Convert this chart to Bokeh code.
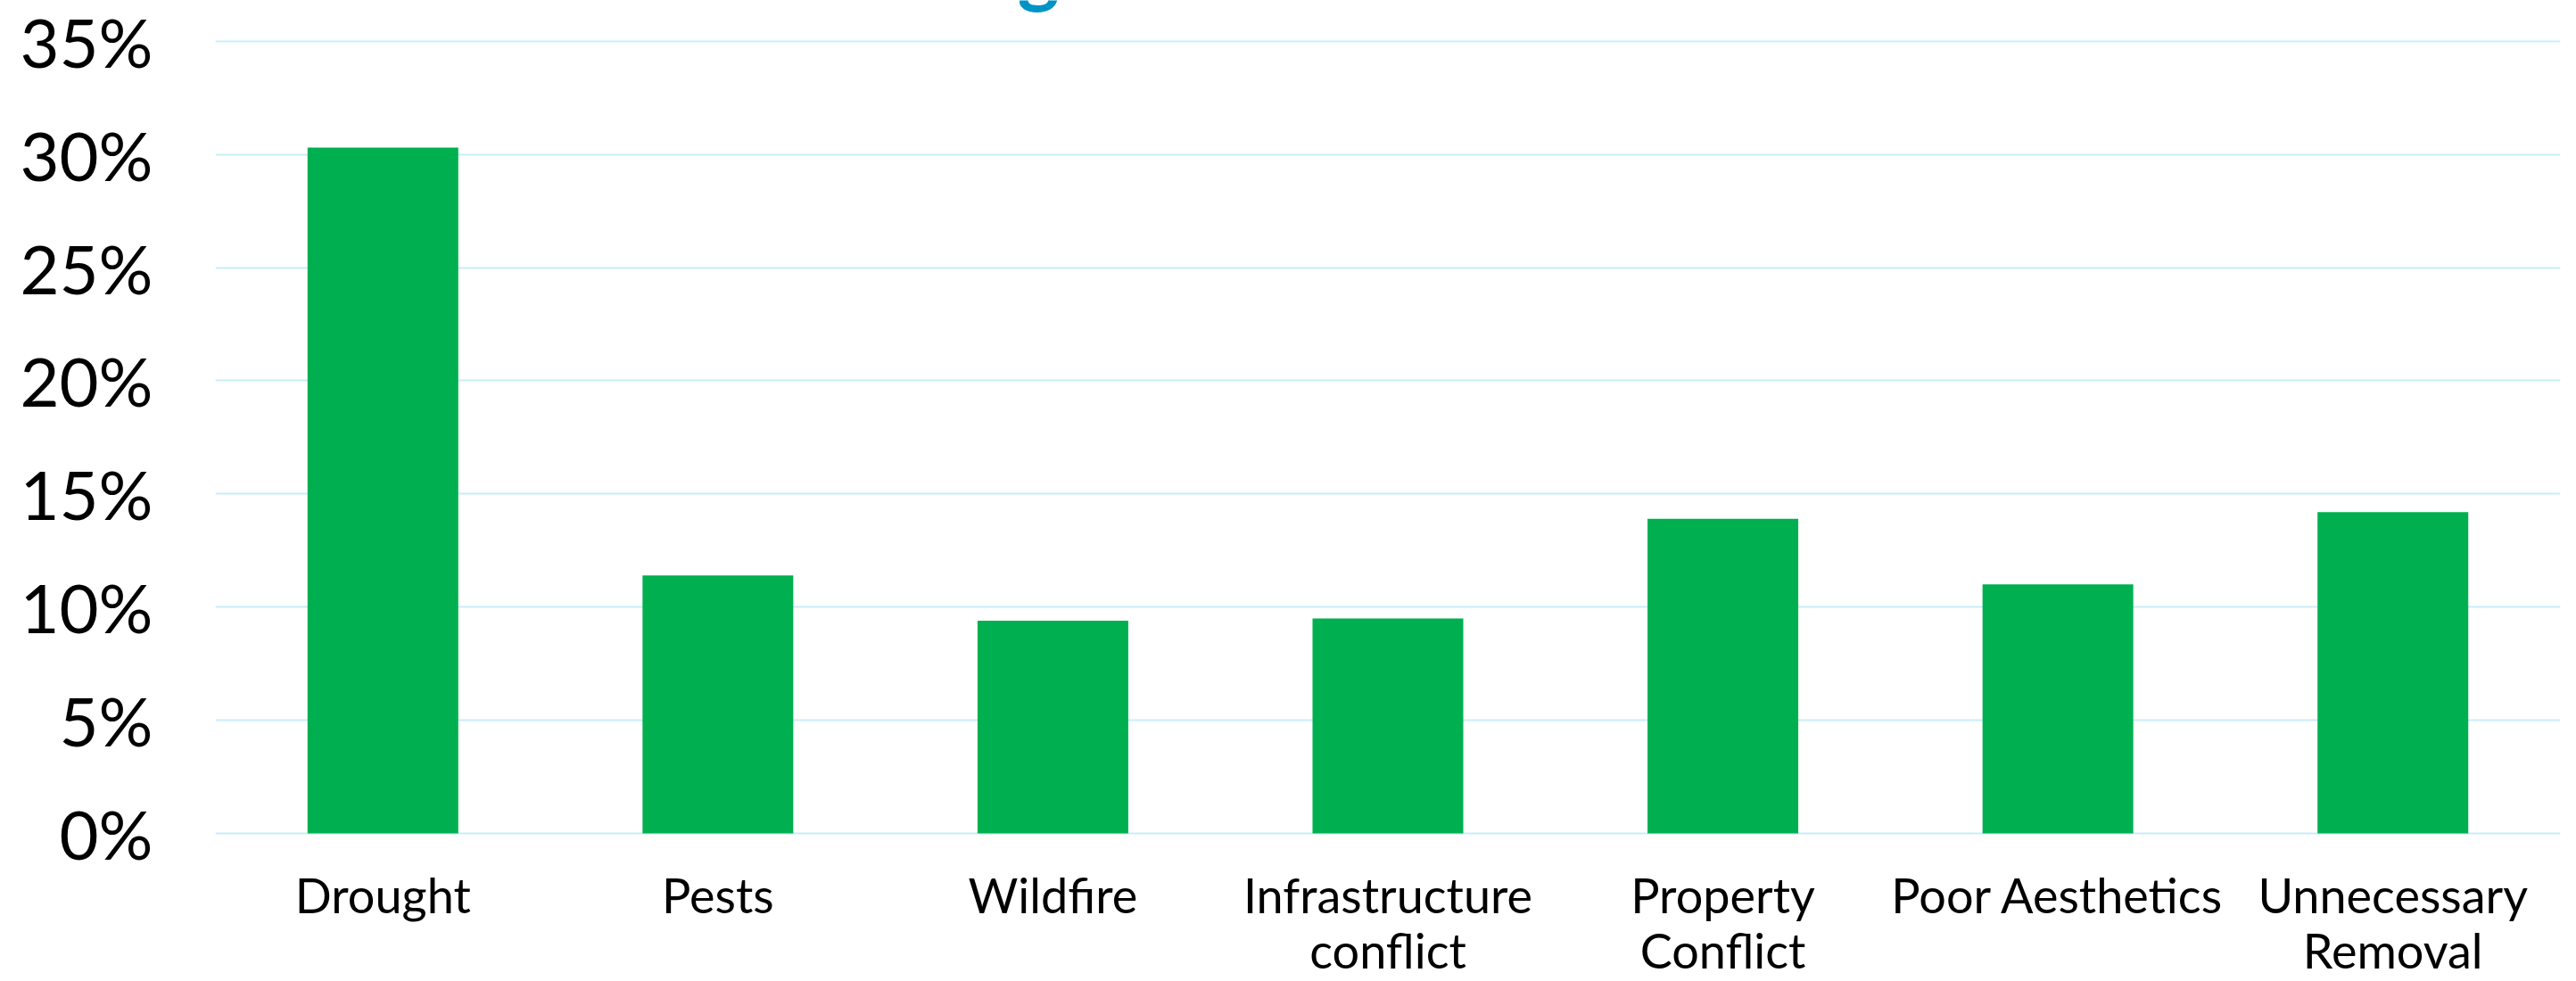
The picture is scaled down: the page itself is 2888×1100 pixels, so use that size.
from bokeh.plotting import figure
from bokeh.models import FixedTicker, PrintfTickFormatter, Range1d, LinearAxis
from bokeh.core.properties import value
from bokeh.embed import file_html
from bokeh.resources import INLINE

categories = ["Drought", "Pests", "Wildfire", "Infrastructure conflict",
              "Property Conflict", "Poor Aesthetics", "Unnecessary Removal"]
label_line1 = ["Drought", "Pests", "Wildfire", "Infrastructure",
               "Property", "Poor Aesthetics", "Unnecessary"]
label_line2 = ["", "", "", "conflict", "Conflict", "", "Removal"]
values = [30.3, 11.4, 9.4, 9.5, 13.9, 11.0, 14.2]
y_ticks = [0, 5, 10, 15, 20, 25, 30, 35]
title_text = "What are the greatest threats to trees in Chico?"

FONT = "Lato"
xpos = list(range(len(categories)))

# frame runs from the very top of the canvas; the title sits at its top edge
p = figure(x_range=Range1d(-0.5, len(categories) - 0.5),
           y_range=Range1d(-0.3915, 36.80),
           width=2872, height=1100, output_backend="svg",
           toolbar_location=None, min_border_left=241, min_border_right=2,
           min_border_top=0, min_border_bottom=150)

p.vbar(x=xpos, top=values, width=0.45, color="#00B050", line_color=None)

p.outline_line_color = None
p.background_fill_color = "white"
p.border_fill_color = "white"

p.xgrid.grid_line_color = None
p.ygrid.grid_line_color = "#C8EEF9"
p.ygrid.grid_line_width = 2
p.ygrid.level = "underlay"

p.yaxis.ticker = FixedTicker(ticks=y_ticks)
p.yaxis.formatter = PrintfTickFormatter(format="%d%%")
p.yaxis.axis_line_color = None
p.yaxis.major_tick_line_color = None
p.yaxis.minor_tick_line_color = None
p.yaxis.major_tick_out = 0
p.yaxis.major_tick_in = 0
p.yaxis.major_label_standoff = 70
p.yaxis.major_label_text_font = FONT
p.yaxis.major_label_text_font_size = "76px"
p.yaxis.major_label_text_color = "black"


def style_x(ax, standoff):
    ax.ticker = FixedTicker(ticks=xpos)
    ax.axis_line_color = None
    ax.major_tick_line_color = None
    ax.minor_tick_line_color = None
    ax.major_tick_out = 0
    ax.major_tick_in = 0
    ax.major_label_standoff = standoff
    ax.major_label_text_font = FONT
    ax.major_label_text_font_size = "54px"
    ax.major_label_text_color = "black"


style_x(p.xaxis[0], 26)
p.xaxis[0].major_label_overrides = dict(zip(xpos, label_line1))

ax2 = LinearAxis()
style_x(ax2, -6)
ax2.major_label_overrides = {i: (t if t else " ") for i, t in zip(xpos, label_line2)}
p.add_layout(ax2, "below")

p.text(x=[2.945], y=[36.566], text=[title_text], y_offset=-44,
       text_align="center", text_baseline="alphabetic", text_font=value(FONT),
       text_font_style="bold", text_font_size="89px", text_color="#0093C6")

open("out.html", "w").write(file_html(p, INLINE))
